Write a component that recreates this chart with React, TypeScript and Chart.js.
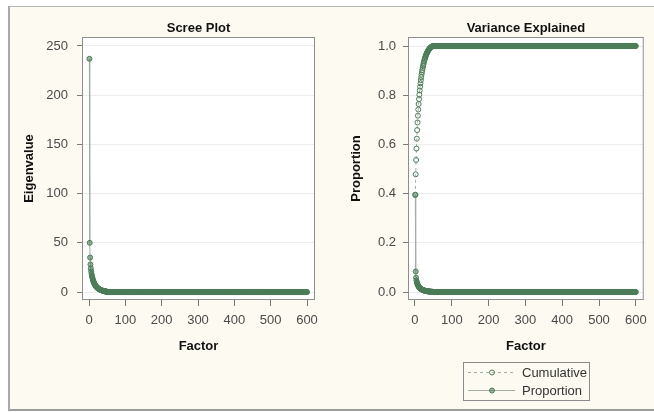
import { useEffect, useRef } from "react";
import { Chart, registerables } from "chart.js";

Chart.register(...registerables);

// ---------- data ----------
const FACTOR_COUNT = 600;
// eigenvalues of the 49 non-zero factors (the rest are 0)
const EIGENVALUES_NONZERO = [
  237, 50, 35, 28, 24, 21, 18.5, 16.5, 15, 13.5,
  12, 11, 10, 9.2, 8.4, 7.7, 7.0, 6.4, 5.9, 5.4,
  5.0, 4.6, 4.3, 4.0, 3.7, 3.4, 3.1, 2.9, 2.7, 2.5,
  2.3, 2.1, 1.95, 1.8, 1.65, 1.5, 1.4, 1.3, 1.2, 1.1,
  1.0, 0.9, 0.8, 0.7, 0.6, 0.55, 0.5, 0.45, 0.4,
];
const EIGENVALUE_TAIL = 0;
const PROPORTION_NONZERO = [
  0.395, 0.0833, 0.0583, 0.0467, 0.04, 0.035, 0.0308, 0.0275, 0.025, 0.0225,
  0.02, 0.0183, 0.0167, 0.0153, 0.014, 0.0128, 0.0117, 0.0107, 0.0098, 0.009,
  0.0083, 0.0077, 0.0072, 0.0067, 0.0062, 0.0057, 0.0052, 0.0048, 0.0045, 0.0042,
  0.0038, 0.0035, 0.0033, 0.003, 0.0028, 0.0025, 0.0023, 0.0022, 0.002, 0.0018,
  0.0017, 0.0015, 0.0013, 0.0012, 0.001, 0.0009, 0.0008, 0.0008, 0.0007,
];
const PROPORTION_TAIL = 0;
const CUMULATIVE_NONZERO = [
  0.395, 0.4783, 0.5367, 0.5833, 0.6233, 0.6583, 0.6892, 0.7167, 0.7417, 0.7642,
  0.7842, 0.8025, 0.8192, 0.8345, 0.8485, 0.8613, 0.873, 0.8837, 0.8935, 0.9025,
  0.9108, 0.9185, 0.9257, 0.9323, 0.9385, 0.9442, 0.9493, 0.9542, 0.9587, 0.9628,
  0.9667, 0.9702, 0.9734, 0.9764, 0.9792, 0.9817, 0.984, 0.9862, 0.9882, 0.99,
  0.9917, 0.9932, 0.9945, 0.9957, 0.9967, 0.9976, 0.9984, 0.9992, 1.0,
];
const CUMULATIVE_TAIL = 1.0;

const X_TICKS = [0, 100, 200, 300, 400, 500, 600];
const EIGEN_TICKS = [0, 50, 100, 150, 200, 250];
const PROP_TICKS = [0, 0.2, 0.4, 0.6, 0.8, 1.0];

const FACTORS = Array.from({ length: FACTOR_COUNT }, (_, i) => i + 1);
const seriesPoints = (head: number[], tail: number) =>
  FACTORS.map((f, i) => ({ x: f, y: i < head.length ? head[i] : tail }));

// ---------- style ----------
const FONT = "'Liberation Sans', Arial, sans-serif";
const TICK_COLOR = "#4a4a4a";
const MARK_COLOR = "#4d7c59";
const MARK_FILL = "rgba(77,124,89,0.55)";
const LINE_COLOR = "#a3ada5";

const framePlugin = {
  id: "frame",
  beforeDraw(chart: any) {
    const { ctx, chartArea } = chart;
    const { left, top, right, bottom } = chartArea;
    ctx.save();
    ctx.fillStyle = "#ffffff";
    ctx.fillRect(left, top, right - left, bottom - top);
    ctx.restore();
  },
  beforeDatasetsDraw(chart: any) {
    const { ctx, chartArea } = chart;
    const { left, top, right, bottom } = chartArea;
    ctx.save();
    ctx.strokeStyle = "#8e8e8e";
    ctx.lineWidth = 1;
    ctx.strokeRect(left + 0.5, top + 0.5, right - left - 1, bottom - top - 1);
    ctx.restore();
  },
};

const legendPlugin = {
  id: "customLegend",
  afterDraw(chart: any) {
    const ctx = chart.ctx as CanvasRenderingContext2D;
    ctx.save();
    ctx.strokeStyle = "#8a8a8a";
    ctx.lineWidth = 1;
    ctx.strokeRect(136.5, 362.5, 126, 38);
    const rows = [
      { label: "Cumulative", y: 372, dash: [3, 3], fill: false },
      { label: "Proportion", y: 390, dash: [], fill: true },
    ];
    rows.forEach((r) => {
      ctx.strokeStyle = LINE_COLOR;
      ctx.setLineDash(r.dash);
      ctx.beginPath();
      ctx.moveTo(141, r.y + 0.5);
      ctx.lineTo(188, r.y + 0.5);
      ctx.stroke();
      ctx.setLineDash([]);
      ctx.beginPath();
      ctx.arc(165, r.y + 0.5, 2.5, 0, Math.PI * 2);
      if (r.fill) {
        ctx.fillStyle = MARK_FILL;
        ctx.fill();
      }
      ctx.strokeStyle = MARK_COLOR;
      ctx.stroke();
      ctx.fillStyle = "#333333";
      ctx.font = `13px ${FONT}`;
      ctx.textBaseline = "middle";
      ctx.textAlign = "left";
      ctx.fillText(r.label, 195, r.y + 1);
    });
    ctx.restore();
  },
};

function makeScales(opts: {
  xMin: number; xMax: number; yMin: number; yMax: number;
  yTicks: number[]; yTitle: string; yWidth: number; yPad: number; fmt: (v: number) => string;
}) {
  return {
    x: {
      type: "linear",
      min: opts.xMin,
      max: opts.xMax,
      afterBuildTicks: (s: any) => { s.ticks = X_TICKS.map((v) => ({ value: v })); },
      afterFit: (s: any) => { s.height = 112; },
      grid: { display: true, drawOnChartArea: false, drawTicks: true, tickLength: 6, tickColor: "#7a7a7a" },
      border: { display: false },
      ticks: { padding: 7, autoSkip: false, maxRotation: 0, color: TICK_COLOR, font: { family: FONT, size: 13 } },
      title: {
        display: true, text: "Factor", color: "#111111",
        font: { family: FONT, size: 13, weight: "bold" }, padding: { top: 0, bottom: 58 },
      },
    },
    y: {
      type: "linear",
      min: opts.yMin,
      max: opts.yMax,
      afterBuildTicks: (s: any) => { s.ticks = opts.yTicks.map((v) => ({ value: v })); },
      afterFit: (s: any) => { s.width = opts.yWidth; },
      grid: { display: true, drawOnChartArea: true, color: "#ececec", drawTicks: true, tickLength: 5, tickColor: "#7a7a7a" },
      border: { display: false },
      ticks: {
        padding: opts.yPad, autoSkip: false, color: TICK_COLOR, font: { family: FONT, size: 13 },
        callback: (v: any) => opts.fmt(Number(v)),
      },
      title: {
        display: true, text: opts.yTitle, color: "#111111",
        font: { family: FONT, size: 13, weight: "bold" }, padding: { top: 22, bottom: 0 },
      },
    },
  };
}

function baseOptions(title: string, rightPad: number, scales: any) {
  return {
    responsive: false,
    animation: false,
    events: [],
    layout: { padding: { top: 15, left: 0, right: rightPad, bottom: 0 } },
    plugins: {
      legend: { display: false },
      tooltip: { enabled: false },
      title: {
        display: true, text: title, fullSize: false, color: "#111111",
        font: { family: FONT, size: 13, weight: "bold" }, padding: { top: 6, bottom: 0.4 },
      },
    },
    scales,
  };
}

export default function App() {
  const leftRef = useRef<HTMLCanvasElement>(null);
  const rightRef = useRef<HTMLCanvasElement>(null);

  useEffect(() => {
    const scree = new Chart(leftRef.current!, {
      type: "line",
      data: {
        datasets: [
          {
            label: "Eigenvalue",
            data: seriesPoints(EIGENVALUES_NONZERO, EIGENVALUE_TAIL),
            borderColor: LINE_COLOR,
            borderWidth: 1,
            pointRadius: 2.5,
            pointBorderWidth: 1,
            pointBorderColor: MARK_COLOR,
            pointBackgroundColor: MARK_FILL,
            tension: 0,
          },
        ],
      },
      options: baseOptions(
        "Scree Plot",
        12,
        makeScales({
          xMin: -19.3, xMax: 622, yMin: -8.1, yMax: 259.1, yTicks: EIGEN_TICKS,
          yTitle: "Eigenvalue", yWidth: 82, yPad: 9, fmt: (v) => String(v),
        })
      ) as any,
      plugins: [framePlugin],
    });

    const variance = new Chart(rightRef.current!, {
      type: "line",
      data: {
        datasets: [
          {
            label: "Cumulative",
            data: seriesPoints(CUMULATIVE_NONZERO, CUMULATIVE_TAIL),
            borderColor: LINE_COLOR,
            borderWidth: 1,
            borderDash: [3, 3],
            pointRadius: 2.5,
            pointBorderWidth: 1,
            pointBorderColor: MARK_COLOR,
            pointBackgroundColor: "rgba(0,0,0,0)",
            tension: 0,
          },
          {
            label: "Proportion",
            data: seriesPoints(PROPORTION_NONZERO, PROPORTION_TAIL),
            borderColor: LINE_COLOR,
            borderWidth: 1,
            pointRadius: 2.5,
            pointBorderWidth: 1,
            pointBorderColor: MARK_COLOR,
            pointBackgroundColor: MARK_FILL,
            tension: 0,
          },
        ],
      },
      options: baseOptions(
        "Variance Explained",
        9,
        makeScales({
          xMin: -18.9, xMax: 621.6, yMin: -0.0325, yMax: 1.0366, yTicks: PROP_TICKS,
          yTitle: "Proportion", yWidth: 81, yPad: 7, fmt: (v) => v.toFixed(1),
        })
      ) as any,
      plugins: [framePlugin, legendPlugin],
    });

    return () => {
      scree.destroy();
      variance.destroy();
    };
  }, []);

  return (
    <div style={{ position: "absolute", left: 0, top: 0, width: 654, height: 412, background: "#ffffff", overflow: "hidden" }}>
      <div
        style={{
          position: "absolute", left: 8, top: 6, width: 646, height: 405, boxSizing: "border-box",
          background: "#fdfaf1", borderTop: "1px solid #b4b4b4", borderLeft: "2px solid #a9a9a9", borderBottom: "2px solid #9c9c9c",
        }}
      />
      <canvas ref={leftRef} width={327} height={412} style={{ position: "absolute", left: 0, top: 0 }} />
      <canvas ref={rightRef} width={327} height={412} style={{ position: "absolute", left: 327, top: 0 }} />
    </div>
  );
}
